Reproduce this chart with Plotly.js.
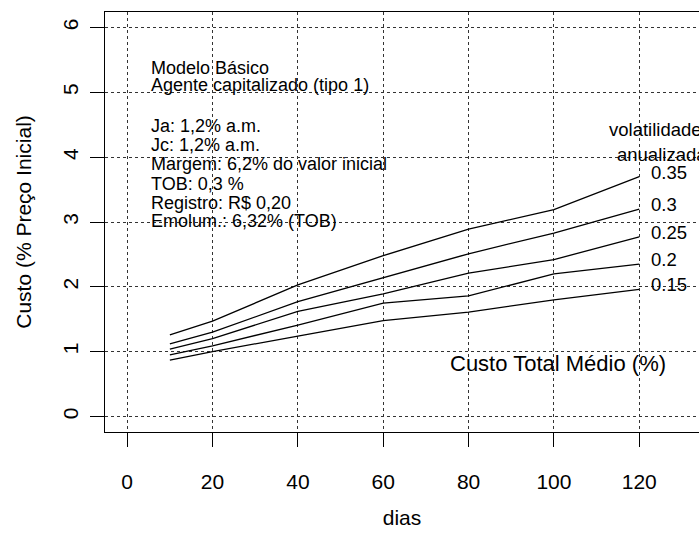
<!DOCTYPE html>
<html>
<head>
<meta charset="utf-8">
<script src="https://cdn.plot.ly/plotly-3.0.1.min.js"></script>
<style>html,body{margin:0;padding:0;background:#fff;}#chart{width:699px;height:535px;}</style>
</head>
<body>
<div id="chart"></div>
<script>
// ---- data ----
const dias = [10, 20, 40, 60, 80, 100, 120];
const vol015 = [0.87, 1.00, 1.24, 1.48, 1.61, 1.80, 1.96];
const vol020 = [0.95, 1.09, 1.41, 1.75, 1.86, 2.20, 2.35];
const vol025 = [1.04, 1.20, 1.62, 1.89, 2.21, 2.42, 2.77];
const vol030 = [1.12, 1.30, 1.77, 2.14, 2.51, 2.83, 3.20];
const vol035 = [1.26, 1.47, 2.03, 2.48, 2.89, 3.19, 3.70];
const seriesLabels = ['0.15', '0.2', '0.25', '0.3', '0.35'];
const infoLines = [
  'Modelo Básico',
  'Agente capitalizado (tipo 1)',
  'Ja: 1,2% a.m.',
  'Jc: 1,2% a.m.',
  'Margem: 6,2% do valor inicial',
  'TOB: 0,3 %',
  'Registro: R$ 0,20',
  'Emolum.: 6,32% (TOB)'
];
const infoY = [5.37, 5.11, 4.48, 4.19, 3.89, 3.58, 3.30, 3.02];
const xTicks = [0, 20, 40, 60, 80, 100, 120];
const yTicks = [0, 1, 2, 3, 4, 5, 6];

const allSeries = [vol015, vol020, vol025, vol030, vol035];
const FONT = 'Liberation Sans, Arial, Helvetica, sans-serif';

const traces = allSeries.map((s, i) => ({
  x: dias, y: s, type: 'scatter', mode: 'lines',
  name: seriesLabels[i],
  line: {color: '#000', width: 1.3},
  hoverinfo: 'skip', showlegend: false
}));

const annotations = [];
infoLines.forEach((t, i) => annotations.push({
  x: 5.15, y: infoY[i], xref: 'x', yref: 'y', text: t, showarrow: false,
  xanchor: 'left', yanchor: 'middle', font: {family: FONT, size: 18, color: '#000'}
}));
allSeries.forEach((s, i) => annotations.push({
  x: 122.3, y: s[s.length - 1] + 0.07, xref: 'x', yref: 'y', text: seriesLabels[i], showarrow: false,
  xanchor: 'left', yanchor: 'middle', font: {family: FONT, size: 18.5, color: '#000'}
}));
annotations.push({x: 112.5, y: 4.42, xref: 'x', yref: 'y', text: 'volatilidade', showarrow: false,
  xanchor: 'left', yanchor: 'middle', font: {family: FONT, size: 18.5, color: '#000'}});
annotations.push({x: 114.2, y: 4.04, xref: 'x', yref: 'y', text: 'anualizada', showarrow: false,
  xanchor: 'left', yanchor: 'middle', font: {family: FONT, size: 18.5, color: '#000'}});
annotations.push({x: 100.9, y: 0.82, xref: 'x', yref: 'y', text: 'Custo Total Médio (%)', showarrow: false,
  xanchor: 'center', yanchor: 'middle', font: {family: FONT, size: 22, color: '#000'}});

const layout = {
  width: 699, height: 535,
  margin: {l: 105, r: 0, t: 12, b: 103, pad: 0},
  paper_bgcolor: '#fff', plot_bgcolor: '#fff',
  font: {family: FONT, size: 21, color: '#000'},
  showlegend: false,
  xaxis: {
    range: [-5.2, 134], tickvals: xTicks, ticktext: xTicks.map(String),
    showgrid: true, gridcolor: '#333', griddash: 'dot', gridwidth: 1,
    zeroline: false, showline: true, mirror: true, linecolor: '#000', linewidth: 1.2,
    ticks: 'outside', ticklen: 14, tickcolor: '#000', tickwidth: 1,
    ticklabelstandoff: 17,
    tickfont: {family: FONT, size: 21, color: '#000'},
    title: {text: 'dias', font: {family: FONT, size: 21, color: '#000'}, standoff: 17}
  },
  yaxis: {
    range: [-0.24, 6.24], tickvals: yTicks, ticktext: yTicks.map(String), tickangle: -90,
    showgrid: true, gridcolor: '#333', griddash: 'dot', gridwidth: 1,
    zeroline: false, showline: true, mirror: false, linecolor: '#000', linewidth: 1.2,
    ticks: 'outside', ticklen: 14, tickcolor: '#000', tickwidth: 1,
    ticklabelstandoff: 3,
    tickfont: {family: FONT, size: 21, color: '#000'},
    title: {text: 'Custo (% Preço Inicial)', font: {family: FONT, size: 21, color: '#000'}, standoff: 22}
  },
  annotations: annotations
};

Plotly.newPlot('chart', traces, layout, {displayModeBar: false, staticPlot: true});
</script>
</body>
</html>
